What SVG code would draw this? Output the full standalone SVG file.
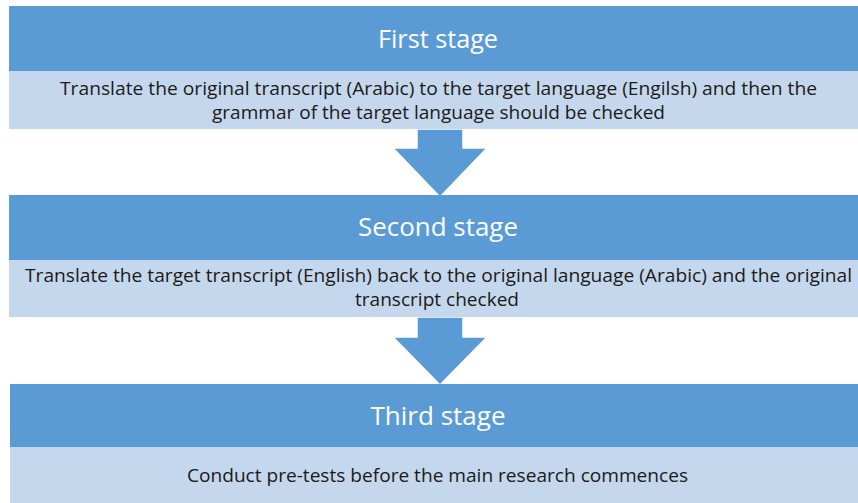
<svg xmlns="http://www.w3.org/2000/svg" width="858" height="503" viewBox="0 0 858 503">
<style>
.hd{fill:#5B9BD5}
.bd{fill:#C5D7EC}
.arrow{fill:#5B9BD5;stroke:#ffffff;stroke-width:1.5}
.title{font-family:"Open Sans","Liberation Sans",sans-serif;font-size:25px;fill:#ffffff;text-anchor:middle}
.body{font-family:"Open Sans","Liberation Sans",sans-serif;font-size:18.5px;fill:#1a1a1a;text-anchor:middle}
</style>
<rect width="858" height="503" fill="#ffffff"/>
<g id="connectors">
<polygon class="arrow" points="417,129 463,129 463,148 487,148 440,197 393,148 417,148"/>
<polygon class="arrow" points="417,317 463,317 463,337 487,337 440,385 393,337 417,337"/>
</g>
<g id="stage1">
<rect class="hd" x="9" y="6" width="849" height="65"/>
<rect class="bd" x="9" y="71" width="849" height="58"/>
<text class="title" x="438" y="48" textLength="120" lengthAdjust="spacingAndGlyphs">First stage</text>
<text class="body" x="438.5" y="94.5" textLength="757" lengthAdjust="spacingAndGlyphs">Translate the original transcript (Arabic) to the target language (Engilsh) and then the</text>
<text class="body" x="438.5" y="118.5" textLength="453" lengthAdjust="spacingAndGlyphs">grammar of the target language should be checked</text>
</g>
<g id="stage2">
<rect class="hd" x="9" y="195" width="849" height="65"/>
<rect class="bd" x="9" y="260" width="849" height="57"/>
<text class="title" x="438" y="236" textLength="160" lengthAdjust="spacingAndGlyphs">Second stage</text>
<text class="body" x="438.5" y="282" textLength="827" lengthAdjust="spacingAndGlyphs">Translate the target transcript (English) back to the original language (Arabic) and the original</text>
<text class="body" x="437" y="306" textLength="164" lengthAdjust="spacingAndGlyphs">transcript checked</text>
</g>
<g id="stage3">
<rect class="hd" x="10" y="384" width="848" height="63"/>
<rect class="bd" x="10" y="447" width="848" height="56"/>
<text class="title" x="438" y="425" textLength="135" lengthAdjust="spacingAndGlyphs">Third stage</text>
<text class="body" x="437.5" y="482" textLength="501" lengthAdjust="spacingAndGlyphs">Conduct pre-tests before the main research commences</text>
</g>
</svg>
